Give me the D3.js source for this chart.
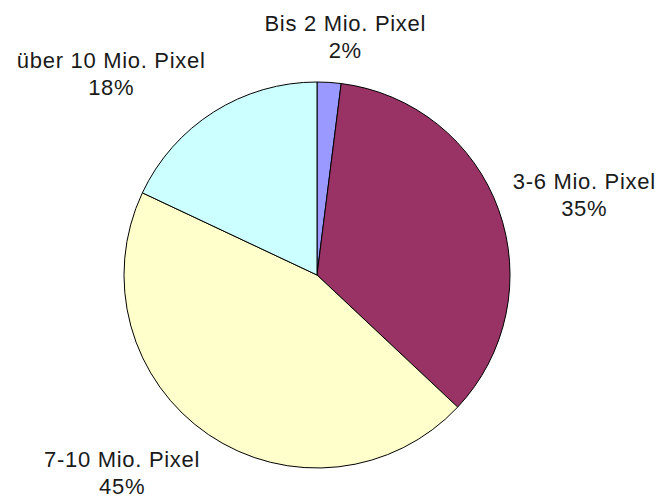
<!DOCTYPE html>
<html>
<head>
<meta charset="utf-8">
<script src="https://cdn.jsdelivr.net/npm/d3@7"></script>
<style>
  body { margin: 0; background: #fff; }
  svg text { font-family: "Liberation Sans", Arial, sans-serif; fill: #1a1a1a; }
</style>
</head>
<body>
<div id="chart"></div>
<script>
// categories and shares (percent), clockwise from 12 o'clock
const categories = ['Bis 2 Mio. Pixel', '3-6 Mio. Pixel', '7-10 Mio. Pixel', 'über 10 Mio. Pixel'];
const shares = [2, 35, 45, 18];
const sliceColors = ['#9999ff', '#993366', '#ffffcc', '#ccffff'];

const width = 658, height = 502;
const cx = 317, cy = 275, radius = 193;

const svg = d3.select('#chart').append('svg')
    .attr('width', width)
    .attr('height', height);

const data = categories.map((c, i) => ({ label: c, value: shares[i], color: sliceColors[i] }));

const pie = d3.pie().sort(null).value(d => d.value);
const arc = d3.arc().innerRadius(0).outerRadius(radius);

const g = svg.append('g').attr('transform', `translate(${cx},${cy})`);

const arcs = pie(data);

g.selectAll('path')
    .data(arcs)
    .join('path')
    .attr('d', arc)
    .attr('fill', d => d.data.color)
    .attr('stroke', '#000')
    .attr('stroke-width', 1);

// data labels, placed like excel does: box hangs off a point outside the rim
const fontSize = 22, lineGap = 27, capH = 16;
const labelRx = radius + 15, labelRy = radius + 24;

g.selectAll('text.lbl')
    .data(arcs)
    .join('text')
    .attr('class', 'lbl')
    .attr('text-anchor', 'middle')
    .style('font-size', fontSize + 'px')
    .style('letter-spacing', '0.7px')
    .each(function(d) {
        const t = d3.select(this);
        t.append('tspan').attr('x', 0).attr('y', capH).text(d.data.label);
        t.append('tspan').attr('x', 0).attr('y', capH + lineGap).text(d.data.value + '%');

        const a = (d.startAngle + d.endAngle) / 2;
        const s = Math.sin(a), c = Math.cos(a);
        const px = s * labelRx, py = -c * labelRy;
        const w = this.getBBox().width;
        const h = capH + lineGap;
        const sx = Math.max(-1, Math.min(1, s * 3));
        const left = px + (sx - 1) / 2 * w;
        const top = py - (c + 1) / 2 * h;
        t.attr('transform', `translate(${left + w / 2},${top})`);
    });
</script>
</body>
</html>
